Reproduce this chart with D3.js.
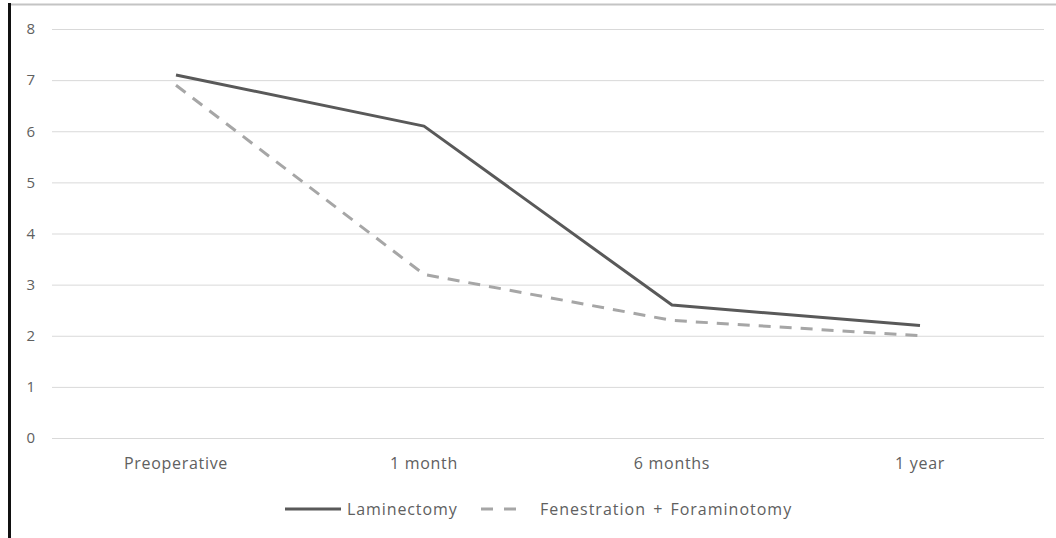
<!DOCTYPE html>
<html>
<head>
<meta charset="utf-8">
<script src="https://cdn.jsdelivr.net/npm/d3@7"></script>
<style>
  html, body { margin: 0; padding: 0; background: #fff; }
  svg { display: block; }
  text { font-family: "Open Sans", Lato, sans-serif; }
</style>
</head>
<body>
<svg id="chart" width="1056" height="538"></svg>
<script>
// Follow-up time points
const categories = ["Preoperative", "1 month", "6 months", "1 year"];
// Mean scores per group
const laminectomy = [7.1, 6.1, 2.6, 2.2];
const fenestration = [6.9, 3.2, 2.3, 2.0];
const yTicks = [0, 1, 2, 3, 4, 5, 6, 7, 8];
const seriesNames = ["Laminectomy", "Fenestration + Foraminotomy"];

const svg = d3.select("#chart");
const H = 538;
const textColor = "#606060";
const fontSize = "16px";
const spacing = "0.7px";

// Frame lines
svg.append("line").attr("x1", 8).attr("x2", 1056).attr("y1", 4.5).attr("y2", 4.5)
  .attr("stroke", "#c4c4c4").attr("stroke-width", 2);
svg.append("line").attr("x1", 9.5).attr("x2", 9.5).attr("y1", 3).attr("y2", H)
  .attr("stroke", "#111").attr("stroke-width", 3);

const x = d3.scaleBand().domain(categories).range([52, 1044]);
const y = d3.scaleLinear().domain([0, 8]).range([438, 29]);

// Gridlines
const grid = svg.append("g").attr("transform", "translate(52,0)")
  .call(d3.axisLeft(y).tickValues(yTicks).tickSize(-(1044 - 52)).tickFormat(""));
grid.select(".domain").remove();
grid.selectAll(".tick line").attr("stroke", "#d9d9d9").attr("stroke-width", 1);

// Y axis labels
const yAxis = svg.append("g").attr("transform", "translate(35,0)")
  .call(d3.axisLeft(y).tickValues(yTicks).tickSize(0).tickPadding(0).tickFormat(d3.format("d")));
yAxis.select(".domain").remove();
yAxis.selectAll("text").attr("fill", textColor).style("font-size", "15px")
  .style("font-family", "'Open Sans', Lato, sans-serif");

// X axis labels
const xAxis = svg.append("g").attr("transform", "translate(0,458)")
  .call(d3.axisBottom(x).tickSize(0).tickPadding(0));
xAxis.select(".domain").remove();
xAxis.selectAll("text").attr("fill", textColor).style("font-size", fontSize)
  .style("letter-spacing", spacing)
  .style("font-family", "'Open Sans', Lato, sans-serif");

const cx = c => x(c) + x.bandwidth() / 2;
const line = d3.line().x((d, i) => cx(categories[i])).y(d => y(d));

svg.append("path").datum(fenestration).attr("d", line)
  .attr("fill", "none").attr("stroke", "#a6a6a6").attr("stroke-width", 3)
  .attr("stroke-dasharray", "12,9").attr("stroke-linejoin", "round");
svg.append("path").datum(laminectomy).attr("d", line)
  .attr("fill", "none").attr("stroke", "#595959").attr("stroke-width", 3)
  .attr("stroke-linejoin", "round");

// Legend
const leg = svg.append("g");
leg.append("line").attr("x1", 285).attr("x2", 341).attr("y1", 509).attr("y2", 509)
  .attr("stroke", "#595959").attr("stroke-width", 3);
leg.append("text").attr("x", 347).attr("y", 515).text(seriesNames[0])
  .attr("fill", textColor).style("font-size", fontSize).style("letter-spacing", "0.9px");
leg.append("line").attr("x1", 481).attr("x2", 525).attr("y1", 509).attr("y2", 509)
  .attr("stroke", "#a6a6a6").attr("stroke-width", 3).attr("stroke-dasharray", "12,11");
leg.append("text").attr("x", 540).attr("y", 515).text(seriesNames[1])
  .attr("fill", textColor).style("font-size", fontSize).style("letter-spacing", "1px")
  .style("word-spacing", "2px");
</script>
</body>
</html>
